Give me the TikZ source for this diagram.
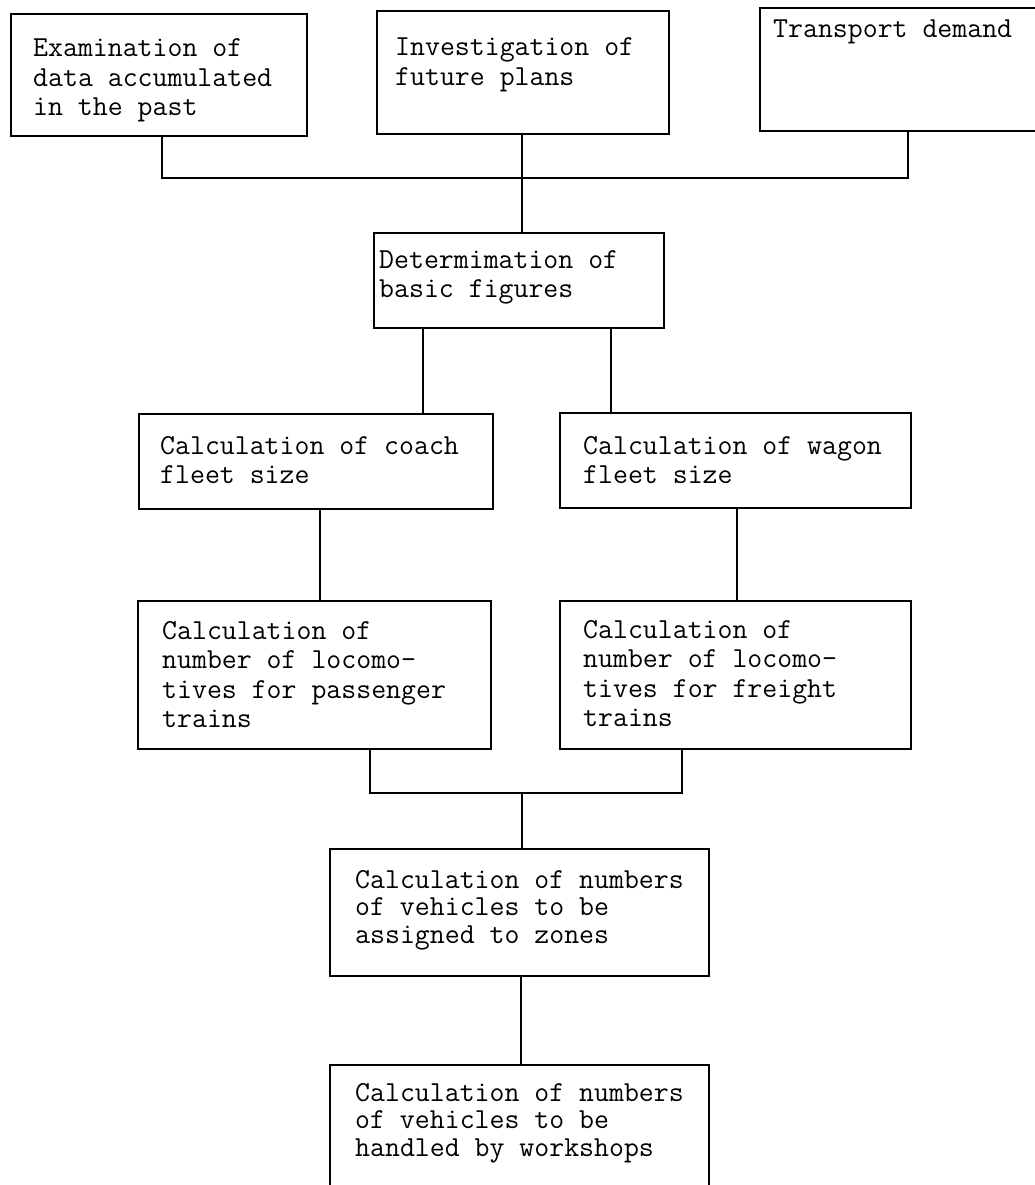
\documentclass[tikz,border=0pt]{standalone}
\usepackage{fontspec}
\usetikzlibrary{calc}
\begin{document}
\begin{tikzpicture}[x=1pt,y=-1pt,
  box/.style={draw, line width=1.8pt, anchor=north west, inner sep=0pt},
  txt/.style={anchor=base west, inner sep=0pt, font=\fontsize{29}{29.5}\selectfont\ttfamily},
  tighttxt/.style={anchor=base west, inner sep=0pt, font=\fontsize{29}{27.5}\selectfont\ttfamily},
  link/.style={line width=1.8pt}]
\clip (0,0) rectangle (1035,1185);
\fill[white] (0,0) rectangle (1035,1185);

% boxes
\node[box, minimum width=296, minimum height=122] (b1) at (10,13) {};
\node[box, minimum width=292, minimum height=123] (b2) at (376,10) {};
\node[box, minimum width=298, minimum height=123] (b3) at (759,7) {};
\node[box, minimum width=290, minimum height=95] (b4) at (373,232) {};
\node[box, minimum width=354, minimum height=95] (b5) at (138,413) {};
\node[box, minimum width=351, minimum height=95] (b6) at (559,412) {};
\node[box, minimum width=353, minimum height=148] (b7) at (137,600) {};
\node[box, minimum width=351, minimum height=148] (b8) at (559,600) {};
\node[box, minimum width=379, minimum height=127] (b9) at (329,848) {};
\node[box, minimum width=379, minimum height=150] (b10) at (329,1064) {};

% texts
\node[txt] (t1) at (33,57) {\parbox[t]{400pt}{Examination of\\data accumulated\\in the past}};
\node[txt] (t2) at (395,56) {\parbox[t]{400pt}{Investigation of\\future plans}};
\node[txt] (t3) at (773,38) {\parbox[t]{400pt}{Transport demand}};
\node[txt] (t4) at (379,268) {\parbox[t]{400pt}{Determimation of\\basic figures}};
\node[txt] (t5) at (160,454) {\parbox[t]{400pt}{Calculation of coach\\fleet size}};
\node[txt] (t6) at (583,454) {\parbox[t]{400pt}{Calculation of wagon\\fleet size}};
\node[txt] (t7) at (162,639) {\parbox[t]{400pt}{Calculation of\\number of locomo-\\tives for passenger\\trains}};
\node[txt] (t8) at (583,638) {\parbox[t]{400pt}{Calculation of\\number of locomo-\\tives for freight\\trains}};
\node[tighttxt] (t9) at (355,888) {\parbox[t]{400pt}{Calculation of numbers\\of vehicles to be\\assigned to zones}};
\node[tighttxt] (t10) at (355,1101) {\parbox[t]{400pt}{Calculation of numbers\\of vehicles to be\\handled by workshops}};

% connector points
\coordinate (p1) at ($(b1.south west)+(152,0)$);
\coordinate (p2) at ($(b2.south west)+(146,0)$);
\coordinate (p3) at ($(b3.south west)+(149,0)$);
\coordinate (j1) at (522,178);
\coordinate (p4a) at ($(b4.south west)+(50,0)$);
\coordinate (p4b) at ($(b4.south west)+(238,0)$);
\coordinate (p5) at ($(b5.south west)+(182,0)$);
\coordinate (p6) at ($(b6.south west)+(178,0)$);
\coordinate (p7) at ($(b7.south west)+(233,0)$);
\coordinate (p8) at ($(b8.south west)+(123,0)$);
\coordinate (j2) at (522,793);
\coordinate (p9) at ($(b9.south west)+(192,0)$);

% connectors
\draw[link] (p1) |- (j1);
\draw[link] (p3) |- (j1);
\draw[link] (p2) -- (j1) -- (j1 |- b4.north);
\draw[link] (p4a) -- (p4a |- b5.north);
\draw[link] (p4b) -- (p4b |- b6.north);
\draw[link] (p5) -- (p5 |- b7.north);
\draw[link] (p6) -- (p6 |- b8.north);
\draw[link] (p7) |- (j2);
\draw[link] (p8) |- (j2);
\draw[link] (j2) -- (j2 |- b9.north);
\draw[link] (p9) -- (p9 |- b10.north);
\end{tikzpicture}
\end{document}
